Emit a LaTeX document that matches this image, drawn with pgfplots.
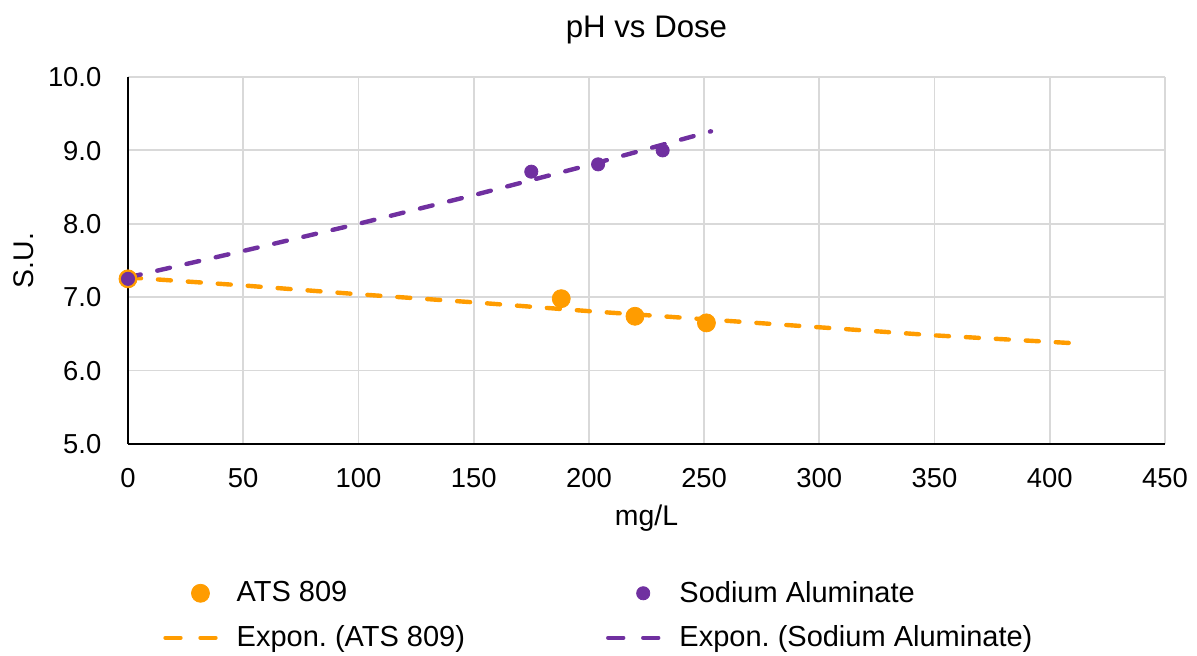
\documentclass[border=0pt]{standalone}
\usepackage{fontspec}
\setmainfont{Liberation Sans}
\usepackage{pgfplots}
\pgfplotsset{compat=1.18}
\definecolor{atsorange}{HTML}{FF9C00}
\definecolor{sapurple}{HTML}{7030A0}
\definecolor{gridgray}{HTML}{D9D9D9}
\pgfplotsset{
  markleg/.style={legend image code/.code={\path (0pt,0pt) (31.5pt,0pt); \draw[##1] plot coordinates {(18.5pt,0pt)};}},
  dashleg/.style={legend image code/.code={\path (0pt,0pt) (31.5pt,0pt); \draw[##1, dash pattern=on 7.5pt off 10pt] (1pt,0pt) -- (26.5pt,0pt);}},
}
\begin{document}
\frenchspacing
\begin{tikzpicture}[font=\fontsize{14.5}{17}\selectfont]
\begin{axis}[name=ax, scale only axis, width=518.5pt, height=183.5pt,
  xmin=0, xmax=450, ymin=5, ymax=10,
  xtick={0,50,...,450}, ytick={5,6,...,10},
  axis x line=bottom, axis y line=left,
  axis line style={-, line width=1.3pt, black},
  grid=major, grid style={gridgray, line width=0.9pt},
  major tick length=0pt,
  clip=false,
  /pgf/number format/assume math mode=true,
  yticklabel style={anchor=base east, xshift=-9.8pt, yshift=-4.85pt, font=\fontsize{13.7}{16}\selectfont,
    /pgf/number format/.cd, fixed, fixed zerofill, precision=1},
  xticklabel style={anchor=base, yshift=-22pt, font=\fontsize{13.7}{16}\selectfont},
  title={pH vs Dose},
  every axis title/.style={at={(axis description cs:0.5,1)}, anchor=base, yshift=19.85pt, font=\fontsize{15.6}{18}\selectfont},
  xlabel={mg/L},
  every axis x label/.style={at={(axis description cs:0.5,0)}, anchor=base, yshift=-41pt, font=\fontsize{14.2}{17}\selectfont},
  ylabel={S.U.},
  every axis y label/.style={at={(axis description cs:-0.0916,0.5)}, rotate=90, anchor=base, font=\fontsize{14.2}{17}\selectfont},
  legend columns=2,
  legend cell align=left,
  legend style={draw=none, fill=none, at={(axis description cs:0.456,-0.4675)}, anchor=center,
    /tikz/every even column/.style={column sep=65.5pt}, row sep=6.3pt,
    nodes={inner xsep=4pt}, font=\fontsize{14.5}{17}\selectfont},
]
\addplot[only marks, mark=*, mark size=4.5pt, atsorange, mark options={draw=atsorange, fill=atsorange}, markleg]
  coordinates {(0,7.25) (188,6.98) (220,6.74) (251,6.65)};
\addlegendentry{ATS 809}
\addplot[only marks, mark=*, mark size=3.3pt, sapurple, mark options={draw=sapurple, fill=sapurple}, markleg]
  coordinates {(0,7.25) (175,8.71) (204,8.81) (232,9.0)};
\addlegendentry{Sodium Aluminate}
\addplot[no marks, atsorange, line width=2.2pt, line cap=round, dash pattern=on 6.5pt off 8.5pt, dashleg]
  coordinates {(0,7.27) (50,7.16) (100,7.04) (150,6.93) (200,6.81) (250,6.70) (300,6.59) (350,6.48) (412,6.37)};
\addlegendentry{Expon. (ATS 809)}
\addplot[no marks, sapurple, line width=2.2pt, line cap=round, dash pattern=on 6.5pt off 8.5pt, dashleg]
  coordinates {(0,7.27) (50,7.63) (100,8.00) (150,8.39) (200,8.80) (253,9.26)};
\addlegendentry{Expon. (Sodium Aluminate)}
\end{axis}
\pgfresetboundingbox
\path[use as bounding box] ([shift={(-64pt,-106pt)}]ax.south west) rectangle ([shift={(16pt,38.5pt)}]ax.north east);
\end{tikzpicture}
\end{document}
